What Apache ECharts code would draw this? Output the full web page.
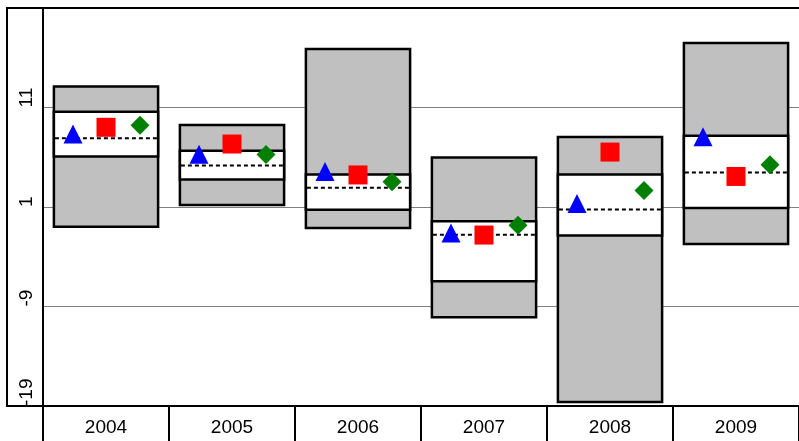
<!DOCTYPE html>
<html>
<head>
<meta charset="utf-8">
<script src="https://cdn.jsdelivr.net/npm/echarts@6/dist/echarts.min.js"></script>
<style>html,body{margin:0;padding:0;background:#fff;}#c{width:799px;height:441px;}</style>
</head>
<body>
<div id="c"></div>
<script>
const categories = ['2004', '2005', '2006', '2007', '2008', '2009'];
const outerTop    = [13.11, 9.23, 16.87, 5.97, 8.03, 17.47];
const innerTop    = [10.57, 6.65, 4.27, -0.42, 4.27, 8.16];
const median      = [7.92, 5.17, 2.93, -1.79, 0.75, 4.47];
const innerBottom = [6.08, 3.76, 0.72, -6.45, -1.86, 0.89];
const outerBottom = [-0.99, 1.19, -1.12, -10.07, -18.61, -2.73];
const triangleVals = [8.34, 6.30, 4.57, -1.62, 1.35, 8.06];
const squareVals   = [9.01, 7.33, 4.22, -1.82, 6.52, 4.07];
const diamondVals  = [9.21, 6.28, 3.53, -0.84, 2.66, 5.24];
const yTicks = [-19, -9, 1, 11];

const boxData = categories.map((c, i) => [i, outerBottom[i], innerBottom[i], median[i], innerTop[i], outerTop[i]]);

function renderBox(params, api) {
  const i = api.value(0);
  const w = api.size([1, 0])[0] * 0.827;
  const cx = api.coord([i, 0])[0];
  const x0 = cx - w / 2;
  const yOB = api.coord([i, api.value(1)])[1];
  const yIB = api.coord([i, api.value(2)])[1];
  const yM  = api.coord([i, api.value(3)])[1];
  const yIT = api.coord([i, api.value(4)])[1];
  const yOT = api.coord([i, api.value(5)])[1];
  return {
    type: 'group',
    children: [
      { type: 'rect', shape: { x: x0, y: yOT, width: w, height: yOB - yOT },
        style: { fill: '#c0c0c0', stroke: '#000', lineWidth: 2.5 } },
      { type: 'rect', shape: { x: x0, y: yIT, width: w, height: yIB - yIT },
        style: { fill: '#ffffff', stroke: '#000', lineWidth: 2.5 } },
      { type: 'line', shape: { x1: x0 + 1, y1: yM, x2: x0 + w - 1, y2: yM },
        style: { stroke: '#000', lineWidth: 2, lineDash: [4, 3] } }
    ]
  };
}

const chart = echarts.init(document.getElementById('c'), null, { renderer: 'canvas' });
chart.setOption({
  animation: false,
  backgroundColor: '#ffffff',
  grid: { left: 43, right: -1, top: 8, bottom: 35, containLabel: false },
  xAxis: {
    type: 'category',
    data: categories,
    boundaryGap: true,
    axisLine: { show: true, onZero: false, lineStyle: { color: '#000', width: 2 } },
    axisTick: { show: true, length: 36, lineStyle: { color: '#000', width: 2 } },
    axisLabel: { color: '#000', fontSize: 19, fontFamily: 'Liberation Sans, Arial, sans-serif', margin: 12 },
    splitLine: { show: false }
  },
  yAxis: {
    type: 'value',
    min: -19, max: 21, interval: 10,
    axisLine: { show: true, lineStyle: { color: '#000', width: 2 } },
    axisTick: { show: false },
    axisLabel: {
      color: '#000', fontSize: 19, fontFamily: 'Liberation Sans, Arial, sans-serif',
      rotate: 90, align: 'left', verticalAlign: 'middle', margin: 16,
      showMaxLabel: false,
      formatter: v => (yTicks.indexOf(v) >= 0 ? String(v) : '')
    },
    splitLine: { show: true, lineStyle: { color: '#808080', width: 1 } }
  },
  graphic: [
    { type: 'line', z: 100, shape: { x1: 6, y1: 8, x2: 800, y2: 8 }, style: { stroke: '#000', lineWidth: 2 } },
    { type: 'line', z: 100, shape: { x1: 7, y1: 7, x2: 7, y2: 407 }, style: { stroke: '#000', lineWidth: 2 } },
    { type: 'line', z: 100, shape: { x1: 6, y1: 406, x2: 44, y2: 406 }, style: { stroke: '#000', lineWidth: 2 } }
  ],
  series: [
    { type: 'custom', renderItem: renderBox, data: boxData, z: 2,
      encode: { x: 0, y: [1, 2, 3, 4, 5] } },
    { type: 'scatter', data: triangleVals, symbol: 'triangle', symbolSize: 19, symbolOffset: [-33, 0],
      itemStyle: { color: '#0000ff', opacity: 1 }, z: 5 },
    { type: 'scatter', data: squareVals, symbol: 'rect', symbolSize: 19,
      itemStyle: { color: '#ff0000', opacity: 1 }, z: 5 },
    { type: 'scatter', data: diamondVals, symbol: 'diamond', symbolSize: 19, symbolOffset: [34, 0],
      itemStyle: { color: '#008000', opacity: 1 }, z: 5 }
  ]
});
</script>
</body>
</html>
